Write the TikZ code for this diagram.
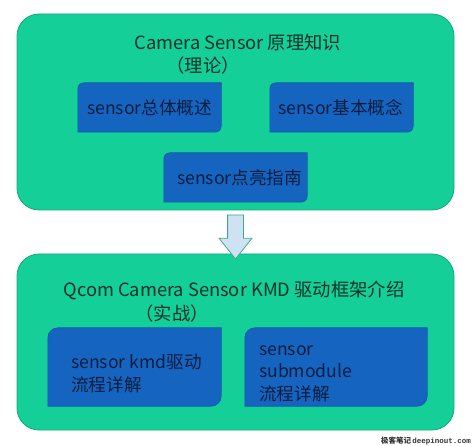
\documentclass[tikz,border=0pt]{standalone}
\usepackage{fontspec}
\setmainfont{Noto Sans CJK SC}
\newfontfamily\markfont{Liberation Mono}
\usetikzlibrary{shapes.arrows, calc}

\definecolor{boxgreen}{HTML}{14CF97}
\definecolor{boxgreenline}{HTML}{0FA97A}
\definecolor{boxblue}{HTML}{1565C0}
\definecolor{boxblueline}{HTML}{0F5AA8}
\definecolor{arrowfill}{HTML}{CFE2F3}
\definecolor{arrowline}{HTML}{3FA88A}
\definecolor{titletext}{HTML}{0B3327}
\definecolor{itemtext}{HTML}{0A1D40}

\begin{document}
\begin{tikzpicture}[x=1pt, y=-1pt,
	bigbox/.style={rectangle, rounded corners=22pt, fill=boxgreen, draw=boxgreenline, line width=0.8pt, inner sep=0pt},
	itembox/.style={rectangle, inner sep=0pt},
	itemfill/.style={fill=boxblue, draw=boxblueline, line width=0.6pt},
	title/.style={text=titletext, font=\fontsize{18.3}{22}\selectfont, inner sep=0pt},
	item/.style={text=itemtext, font=\fontsize{17.6}{22.5}\selectfont, inner sep=0pt, anchor=west, align=left}]
	\useasboundingbox (0,0) rectangle (474,446);

	% Draw the two big boxes
	\node[bigbox, minimum width=437pt, minimum height=196pt] (theory) at (235.5, 112) {};
	\node[bigbox, minimum width=437pt, minimum height=176pt] (practice) at (235.5, 342) {};

	\node[title] (theoryT) at (238, 43) {Camera Sensor 原理知识};
	\node[title] (theoryS) at (203, 66) {（理论）};
	\node[title] (practiceT) at (234, 290) {Qcom Camera Sensor KMD 驱动框架介绍};
	\node[title] (practiceS) at (172, 314) {（实战）};

	% Draw the item boxes, rounded on two corners
	\node[itembox, minimum width=143pt, minimum height=49pt] (general) at (149.5, 107.5) {};
	\node[itembox, minimum width=143pt, minimum height=49pt] (basics) at (341.5, 107.5) {};
	\node[itembox, minimum width=143pt, minimum height=49pt] (bringup) at (235.5, 177.5) {};
	\node[itembox, minimum width=173pt, minimum height=78pt] (kmd) at (134.5, 367) {};
	\node[itembox, minimum width=182pt, minimum height=78pt] (submod) at (336, 367) {};

	\foreach \b/\r in {general/6, basics/6, bringup/6, kmd/10, submod/10}
		\filldraw[itemfill] (\b.south west) -- (\b.west) [rounded corners=\r pt] -- (\b.north west) -- (\b.north)
			[sharp corners] -- (\b.north east) -- (\b.east) [rounded corners=\r pt] -- (\b.south east) -- (\b.south)
			[sharp corners] -- cycle;

	\node[item] (generalT) at (87, 108) {sensor总体概述};
	\node[item] (basicsT) at (278, 108) {sensor基本概念};
	\node[item] (bringupT) at (177, 178) {sensor点亮指南};
	\node[item] (kmdT) at (71, 373.5) {sensor kmd驱动\\流程详解};
	\node[item] (submodT) at (259, 373.5) {sensor\\submodule\\流程详解};

	% Draw the arrow between the big boxes
	\node[single arrow, rotate=-90, fill=arrowfill, draw=arrowline, line width=0.8pt, inner xsep=0pt, inner ysep=7.5pt,
		minimum height=44pt, minimum width=32pt, single arrow head extend=8.5pt, single arrow tip angle=77,
		single arrow head indent=0pt] (step) at ($(theory.south)!0.5!(practice.north)$) {};

	\node[anchor=east, inner sep=0pt, text=black!80, font=\fontsize{7.5}{9}\selectfont] (mark) at (471, 441)
		{\bfseries 极客笔记\,{\markfont deepinout.com}};
\end{tikzpicture}
\end{document}
